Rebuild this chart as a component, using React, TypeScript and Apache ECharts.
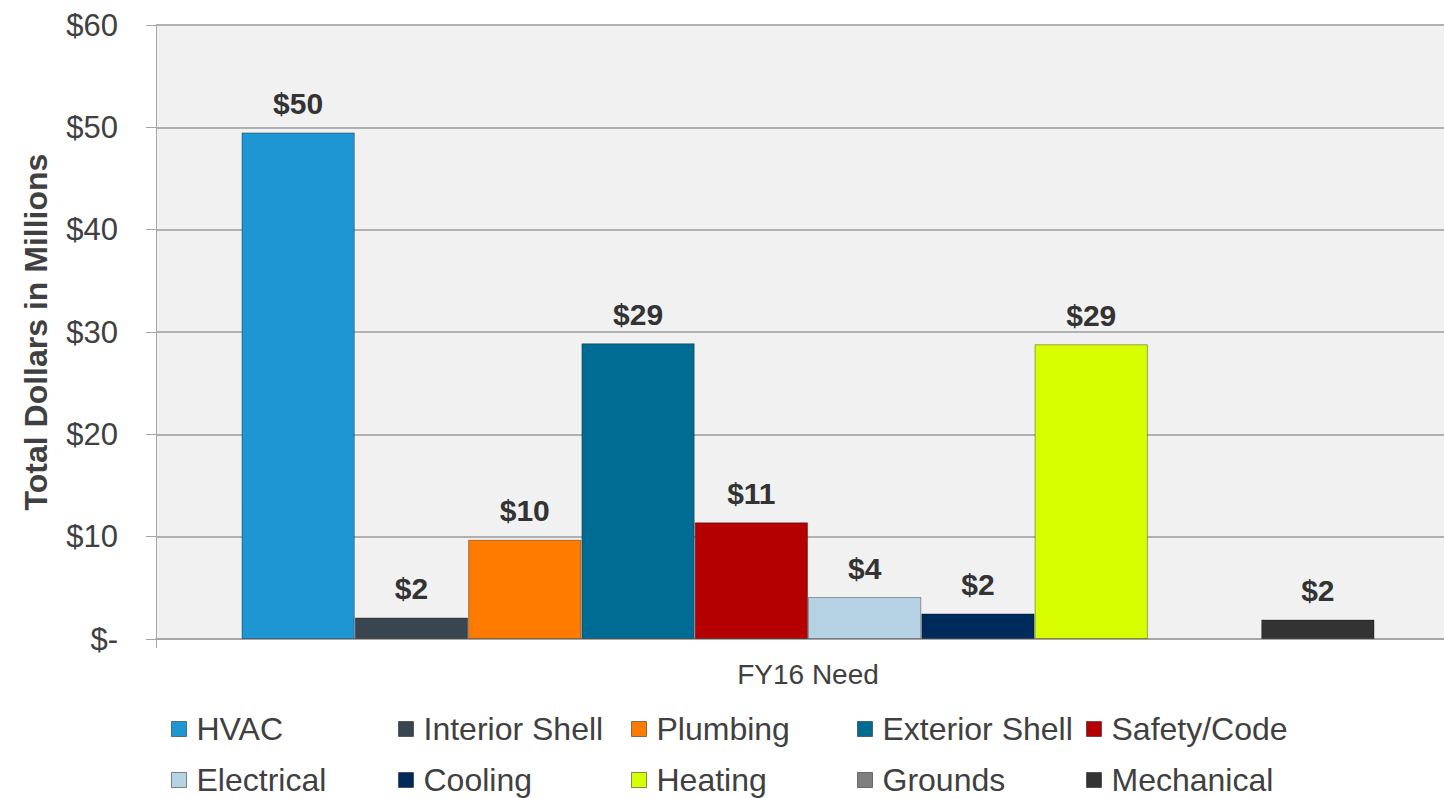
import React, { useEffect, useRef } from "react";
import * as echarts from "echarts";

const categories = ["FY16 Need"];
const seriesNames = [
  "HVAC",
  "Interior Shell",
  "Plumbing",
  "Exterior Shell",
  "Safety/Code",
  "Electrical",
  "Cooling",
  "Heating",
  "Grounds",
  "Mechanical",
];
const seriesValues = [49.5, 2.1, 9.7, 28.9, 11.4, 4.1, 2.5, 28.8, 0, 1.9];
const seriesLabels = ["$50", "$2", "$10", "$29", "$11", "$4", "$2", "$29", "", "$2"];
const seriesColors = [
  "#1e96d4",
  "#394650",
  "#ff7b00",
  "#006c94",
  "#b40000",
  "#b6d3e5",
  "#002a5c",
  "#d8ff00",
  "#7f7f7f",
  "#333333",
];

// legend placement (two rows of five)
const legendLefts = [171, 398, 631, 857, 1086, 171, 398, 631, 857, 1086];
const legendTops = [713, 713, 713, 713, 713, 764, 764, 764, 764, 764];

const FONT = "'Liberation Sans', Arial, Helvetica, sans-serif";

export default function App() {
  const ref = useRef<HTMLDivElement>(null);
  useEffect(() => {
    if (!ref.current) return;
    const chart = echarts.init(ref.current, null, { renderer: "svg" });
    const option: any = {
      animation: false,
      backgroundColor: "#ffffff",
      textStyle: { fontFamily: FONT },
      grid: {
        left: 156,
        top: 25,
        right: 0,
        height: 614,
        show: true,
        backgroundColor: "#f1f1f1",
        borderWidth: 0,
      },
      legend: seriesNames.map((n, i) => ({
        data: [n],
        left: legendLefts[i],
        top: legendTops[i],
        icon: "rect",
        itemWidth: 15,
        itemHeight: 15,
        itemGap: 10,
        padding: 0,
        selectedMode: false,
        textStyle: { fontSize: 32, color: "#404040", fontFamily: FONT, padding: [0, 0, 0, 5] },
        itemStyle: { borderColor: "rgba(0,0,0,0.45)", borderWidth: 1 },
      })),
      xAxis: {
        type: "category",
        data: categories,
        axisLine: { lineStyle: { color: "#a6a6a6", width: 2 } },
        axisTick: { show: true, length: 9, lineStyle: { color: "#a6a6a6" } },
        axisLabel: { fontSize: 28, color: "#404040", margin: 21, fontFamily: FONT },
      },
      yAxis: {
        type: "value",
        min: 0,
        max: 60,
        interval: 10,
        name: "Total Dollars in Millions",
        nameLocation: "middle",
        nameGap: 104,
        nameTextStyle: { fontSize: 32, fontWeight: "bold", color: "#404040", fontFamily: FONT },
        axisLine: { show: true, lineStyle: { color: "#a6a6a6", width: 1 } },
        axisTick: { show: true, length: 10, lineStyle: { color: "#a6a6a6" } },
        splitLine: { lineStyle: { color: "#b0b0b0", width: 2 } },
        axisLabel: {
          fontSize: 31,
          color: "#404040",
          margin: 38,
          fontFamily: FONT,
          formatter: (v: number) => (v === 0 ? "$-" : "$" + v),
        },
      },
      series: seriesNames.map((n, i) => ({
        name: n,
        type: "bar",
        barGap: "0%",
        barWidth: 113.3,
        data: [seriesValues[i]],
        itemStyle: {
          color: seriesColors[i],
          borderColor: "rgba(0,0,0,0.35)",
          borderWidth: seriesValues[i] === 0 ? 0 : 1,
        },
        label: {
          show: true,
          position: "top",
          distance: 14,
          fontSize: 30,
          fontWeight: "bold",
          color: "#333333",
          fontFamily: FONT,
          formatter: () => seriesLabels[i],
        },
      })),
    };
    chart.setOption(option);
    return () => chart.dispose();
  }, []);
  return (
    <div
      ref={ref}
      style={{ position: "fixed", left: 0, top: 0, width: 1460, height: 798 }}
    />
  );
}
